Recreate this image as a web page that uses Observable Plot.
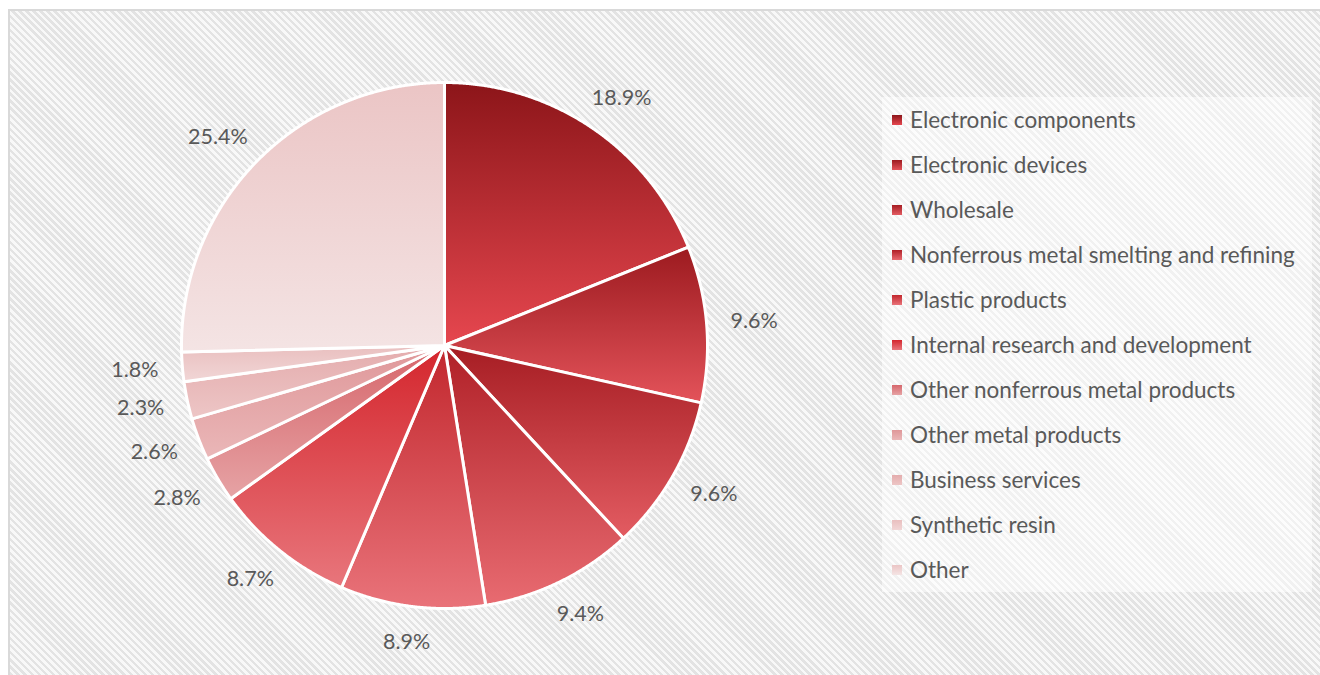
<!DOCTYPE html>
<html><head><meta charset="utf-8">
<script src="https://cdn.jsdelivr.net/npm/d3@7"></script>
<script src="https://cdn.jsdelivr.net/npm/@observablehq/plot@0.6"></script>
<style>
html,body{margin:0;padding:0;background:#fff;}
#wrap{position:relative;width:1320px;height:675px;overflow:hidden;}
#frame{position:absolute;left:8px;top:9px;width:1340px;height:700px;border:2px solid #d9d9d9;box-sizing:border-box;
  background:repeating-linear-gradient(45deg,#f8f8f8 0px,#f8f8f8 2.5px,#e3e3e3 2.5px,#e3e3e3 5px);}
#chart{position:absolute;left:0;top:0;}
#legend{position:absolute;left:882px;top:97px;width:430px;background:rgba(255,255,255,0.5);
  font-family:Lato,"Open Sans",sans-serif;font-size:22.5px;color:#595959;}
.row{height:45px;display:flex;align-items:center;}
.sw{width:10px;height:10px;margin-left:10px;margin-right:8px;flex:none;}
</style></head>
<body><div id="wrap"><div id="frame"></div><div id="chart"></div><div id="legend"></div></div>
<script>
const categories = ["Electronic components","Electronic devices","Wholesale","Nonferrous metal smelting and refining","Plastic products","Internal research and development","Other nonferrous metal products","Other metal products","Business services","Synthetic resin","Other"];
const shares = [18.9, 9.6, 9.6, 9.4, 8.9, 8.7, 2.8, 2.6, 2.3, 1.8, 25.4];
const labels = ["18.9%","9.6%","9.6%","9.4%","8.9%","8.7%","2.8%","2.6%","2.3%","1.8%","25.4%"];
const topColors = ["#8c1519","#9c1a1f","#a61d23","#b02027","#c2272d","#d4262d","#d6666b","#df9799","#e4acad","#e9bfbf","#ebc5c5"];
const bottomColors = ["#e6474f","#e3535a","#e35c62","#e86b71","#e9737a","#e8767c","#e6a3a5","#eab7b8","#edc6c6","#f1d6d6","#f4e4e4"];

const cx = 444, cy = 345, r = 263;
const fontSize = 21.5;
const pie = d3.pie().sort(null).value(d => d)(shares);
// slice outlines in unit coordinates
const slices = pie.map((p, i) => {
  const pts = [{x: 0, y: 0}];
  const n = Math.max(8, Math.ceil((p.endAngle - p.startAngle) / 0.004));
  for (let k = 0; k <= n; k++) {
    const a = p.startAngle + (p.endAngle - p.startAngle) * k / n;
    pts.push({x: Math.sin(a), y: Math.cos(a)});
  }
  return pts;
});
// outside-end labels: box edge sits at a fixed gap outside the pie
const labelGap = 287 / r;
const labelData = pie.map((p, i) => {
  const a = (p.startAngle + p.endAngle) / 2;
  const w = labels[i].length * fontSize * 0.55, h = fontSize * 1.1;
  const ox = Math.sin(a) * (w / 2) / r, oy = Math.cos(a) * (h / 2) / r;
  return {x: labelGap * Math.sin(a) + ox, y: labelGap * Math.cos(a) + oy, text: labels[i]};
});

const svg = Plot.plot({
  width: 1320, height: 675,
  x: {domain: [-1, 1], range: [cx - r, cx + r], axis: null},
  y: {domain: [-1, 1], range: [cy + r, cy - r], axis: null},
  style: {background: "transparent", overflow: "visible"},
  marks: [
    ...slices.map((pts, i) => Plot.line(pts, {x: "x", y: "y", curve: "linear-closed",
      fill: `url(#g${i})`, stroke: "white", strokeWidth: 3, strokeLinejoin: "round"})),
    Plot.text(labelData, {x: "x", y: "y", text: "text", fill: "#595959", fontSize,
      fontFamily: "Lato, 'Open Sans', sans-serif", textAnchor: "middle", lineAnchor: "middle"})
  ]
});
const ns = "http://www.w3.org/2000/svg";
const defs = document.createElementNS(ns, "defs");
categories.forEach((c, i) => {
  const g = document.createElementNS(ns, "linearGradient");
  g.setAttribute("id", `g${i}`);
  g.setAttribute("x1", "0"); g.setAttribute("y1", "0"); g.setAttribute("x2", "0"); g.setAttribute("y2", "1");
  [[0, topColors[i]], [1, bottomColors[i]]].forEach(([o, col]) => {
    const s = document.createElementNS(ns, "stop");
    s.setAttribute("offset", o); s.setAttribute("stop-color", col);
    g.appendChild(s);
  });
  defs.appendChild(g);
});
svg.insertBefore(defs, svg.firstChild);
document.getElementById("chart").appendChild(svg);

const legend = document.getElementById("legend");
categories.forEach((c, i) => {
  const row = document.createElement("div"); row.className = "row";
  const sw = document.createElement("div"); sw.className = "sw";
  sw.style.background = `linear-gradient(${topColors[i]}, ${bottomColors[i]})`;
  const t = document.createElement("span"); t.textContent = c;
  row.appendChild(sw); row.appendChild(t); legend.appendChild(row);
});
</script></body></html>
